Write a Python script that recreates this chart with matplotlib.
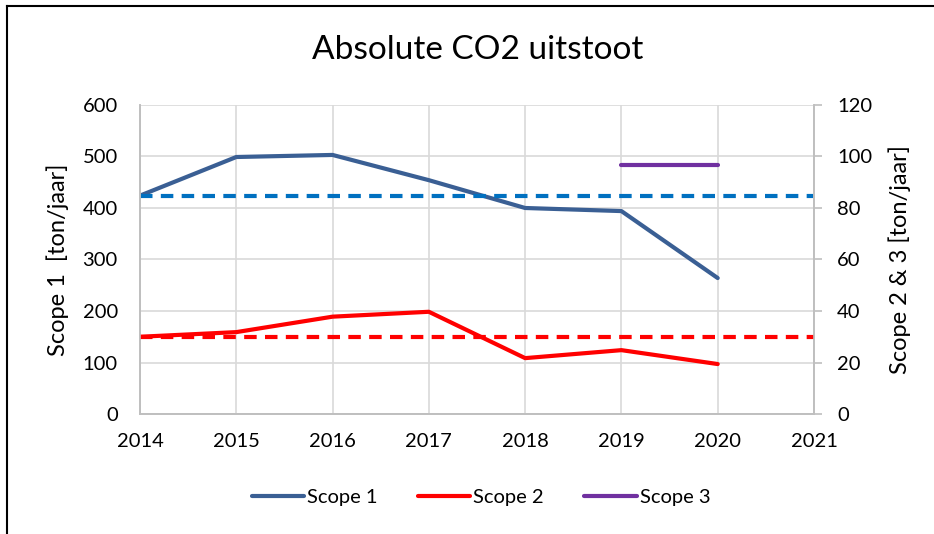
import matplotlib.pyplot as plt
from matplotlib.lines import Line2D

plt.rcParams['font.family'] = ['Lato', 'DejaVu Sans']

# data
years = [2014, 2015, 2016, 2017, 2018, 2019, 2020]
scope1 = [424, 499, 503, 454, 400, 394, 264]
scope2 = [30, 31.8, 37.8, 39.7, 21.7, 24.8, 19.4]
scope3_years = [2019, 2020]
scope3 = [96.8, 96.8]
base_years = [2014, 2021]
scope1_base = [423, 423]
scope2_base = [30, 30]

grid_c = '#D9D9D9'
axis_c = '#BFBFBF'

fig = plt.figure(figsize=(9.34, 5.34), dpi=100)
ax = fig.add_axes([0.1499, 0.2247, 0.7216, 0.5787])
ax2 = ax.twinx()

ax.plot(years, scope1, color='#3A5F94', lw=3, label='Scope 1', solid_capstyle='round')
ax.plot(base_years, scope1_base, color='#0070C0', lw=3, ls=(0, (3, 2)))
ax2.plot(years, scope2, color='#FF0000', lw=3, label='Scope 2', solid_capstyle='round')
ax2.plot(base_years, scope2_base, color='#FF0000', lw=3, ls=(0, (3, 2)))
ax2.plot(scope3_years, scope3, color='#7030A0', lw=3, label='Scope 3', solid_capstyle='round')

ax.set_xlim(2014, 2021)
ax.set_ylim(0, 600)
ax2.set_ylim(0, 120)
ax.set_xticks(range(2014, 2022))
ax.set_yticks(range(0, 601, 100))
ax2.set_yticks(range(0, 121, 20))
ax.grid(True, color=grid_c, lw=1.2)
ax.set_axisbelow(True)

for a in (ax, ax2):
    for s in a.spines.values():
        s.set_color(axis_c)
        s.set_linewidth(1.2)
    a.spines['top'].set_visible(False)
ax.tick_params(axis='y', labelsize=14.5, color=axis_c, length=0, pad=16)
ax.tick_params(axis='x', labelsize=14.5, color=axis_c, length=0, pad=14)
ax2.tick_params(axis='y', labelsize=14.5, color=axis_c, length=5.5, width=1.2, pad=11)

ax.set_ylabel('Scope 1  [ton/jaar]', fontsize=17, labelpad=10)
ax2.set_ylabel('Scope 2 & 3 [ton/jaar]', fontsize=17, labelpad=12)

fig.text(0.511, 0.907, 'Absolute CO2 uitstoot', ha='center', va='center', fontsize=24)

h1, l1 = ax.get_legend_handles_labels()
h2, l2 = ax2.get_legend_handles_labels()
fig.legend(h1 + h2, l1 + l2, loc='center', bbox_to_anchor=(0.515, 0.068), ncol=3,
           frameon=False, fontsize=14.5, handlelength=2.6, columnspacing=2.0, handletextpad=0.15)

# chart frame (top and left edges visible)
fig.add_artist(Line2D([7 / 934, 7 / 934], [0, 1 - 6 / 534], color='black', lw=1.5))
fig.add_artist(Line2D([7 / 934, 1], [1 - 6 / 534, 1 - 6 / 534], color='black', lw=1.5))

fig.savefig('out.png', dpi=100)
